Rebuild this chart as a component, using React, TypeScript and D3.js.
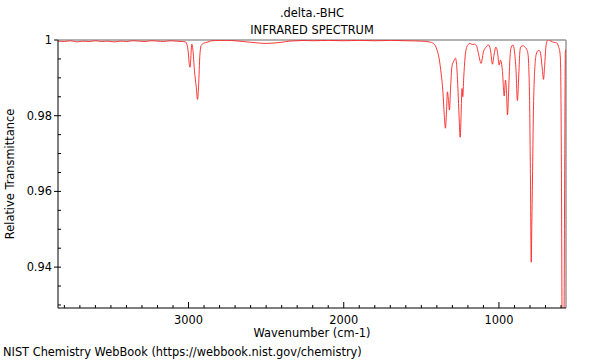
import React from "react";
import * as d3 from "d3";

// spectrum samples (descending wavenumber)
const wavenumbers = [
  3840, 3800, 3760, 3720, 3680, 3640, 3600, 3560, 3520, 3480, 3440, 3400, 3360, 3320,
  3280, 3240, 3200, 3160, 3120, 3080, 3040, 3020, 3008, 3000, 2995, 2990, 2985, 2979,
  2972, 2962, 2950, 2942, 2935, 2927, 2918, 2900, 2880, 2850, 2800, 2750, 2700, 2650,
  2600, 2550, 2500, 2450, 2400, 2350, 2300, 2250, 2200, 2100, 2000, 1900, 1800, 1700,
  1600, 1500, 1450, 1420, 1400, 1385, 1372, 1362, 1352, 1345, 1338, 1332, 1325, 1319,
  1312, 1303, 1290, 1280, 1272, 1262, 1255, 1250, 1244, 1238, 1233, 1227, 1218, 1207,
  1196, 1186, 1172, 1160, 1145, 1130, 1115, 1106, 1100, 1085, 1068, 1055, 1042, 1032,
  1020, 1010, 999, 990, 978, 966, 958, 952, 945, 938, 930, 923, 910, 900, 890, 881,
  872, 865, 859, 842, 830, 820, 814, 808, 803, 797, 792, 788, 784, 778, 772, 767, 760,
  748, 739, 730, 720, 713, 706, 698, 691, 680, 675, 665, 655, 649, 635, 623, 615, 610,
  604, 598, 594, 590, 585, 580, 576, 572, 568,
];
const transmittance = [
  0.9997, 0.9996, 0.9998, 0.9995, 0.9997, 0.9996, 0.9998, 0.9996, 0.9997, 0.9995, 0.9997, 0.9996, 0.9998, 0.9997,
  0.9996, 0.9998, 0.9997, 0.9996, 0.9998, 0.9997, 0.9996, 0.9995, 0.9985, 0.996, 0.9935, 0.9928, 0.9955, 0.9989,
  0.9975, 0.992, 0.9875, 0.9843, 0.988, 0.996, 0.9986, 0.9992, 0.9994, 0.9998, 0.9999, 0.9999, 0.9998, 0.9996,
  0.9994, 0.9992, 0.9991, 0.9992, 0.9994, 0.9997, 0.9998, 0.9999, 0.9998, 0.9999, 0.9998, 0.9999, 0.9998, 0.9999,
  0.9998, 0.9997, 0.9995, 0.999, 0.9975, 0.995, 0.991, 0.9868, 0.98, 0.9767, 0.981, 0.9863, 0.984, 0.9815,
  0.987, 0.993, 0.9945, 0.9952, 0.993, 0.985, 0.978, 0.9743, 0.98, 0.9872, 0.985, 0.99, 0.9955, 0.9982,
  0.9989, 0.9991, 0.9988, 0.9989, 0.9985, 0.996, 0.9938, 0.9955, 0.9969, 0.998, 0.9987, 0.9975, 0.9936, 0.996,
  0.9981, 0.997, 0.9934, 0.9947, 0.992, 0.9852, 0.9894, 0.987, 0.9802, 0.986, 0.9945, 0.9978, 0.9987, 0.997, 0.992, 0.984,
  0.991, 0.997, 0.9982, 0.9985, 0.998, 0.9974, 0.9966, 0.993, 0.985, 0.963, 0.9413, 0.952, 0.963, 0.981, 0.99, 0.9938, 0.9962,
  0.9972, 0.9972, 0.996, 0.992, 0.9896, 0.993, 0.998, 0.9996, 1.0001, 1.0, 0.9997, 0.9995, 0.9994, 0.9993, 0.9991, 0.998, 0.9974,
  0.995, 0.97, 0.93, 0.9, 0.9, 0.93, 0.97, 0.997, 0.9975,
];

const xMajor = [3000, 2000, 1000];
const yMajor = [0.94, 0.96, 0.98, 1];
const yMajorLabels = ["0.94", "0.96", "0.98", "1"];

const title = ".delta.-BHC";
const subtitle = "INFRARED SPECTRUM";
const xLabel = "Wavenumber (cm-1)";
const yLabel = "Relative Transmittance";
const credit = "NIST Chemistry WebBook (https://webbook.nist.gov/chemistry)";

export default function App() {
  const width = 600;
  const height = 360;
  const m = { top: 40, right: 34, bottom: 52, left: 58 };
  const font = "DejaVu Sans, sans-serif";
  const fs = 11.4;

  const x = d3
    .scaleLinear()
    .domain([3841, 568])
    .range([m.left, width - m.right]);
  const y = d3
    .scaleLinear()
    .domain([0.9292, 1])
    .range([height - m.bottom, m.top]);

  const pts = wavenumbers.map((w, i) => [w, transmittance[i]] as [number, number]);
  const line = d3
    .line<[number, number]>()
    .x((d) => x(d[0]))
    .y((d) => y(d[1]))
    .curve(d3.curveMonotoneX);

  const x0 = m.left;
  const x1 = width - m.right;
  const y0 = height - m.bottom;
  const y1 = m.top;

  const xMinor = d3.range(600, 3900, 100).filter((v) => v % 1000 !== 0);
  const yMinor = d3.range(0, 14).map((i) => 0.93 + i * 0.005).filter((v) => y(v) < y0 && y(v) > y1);

  return (
    <svg
      width={width}
      height={height}
      style={{ position: "absolute", left: 0, top: 0, background: "#fff" }}
      fontFamily={font}
    >
      <defs>
        <clipPath id="plot">
          <rect x={x0} y={y1} width={x1 - x0} height={y0 - y1} />
        </clipPath>
      </defs>

      {/* titulos */}
      <text x={(x0 + x1) / 2} y={17} textAnchor="middle" fontSize={fs}>{title}</text>
      <text x={(x0 + x1) / 2} y={34} textAnchor="middle" fontSize={fs}>{subtitle}</text>

      {/* marco gris arriba y a la derecha */}
      <line x1={x0} x2={x1} y1={y1} y2={y1} stroke="#999" strokeWidth={1.5} />
      <line x1={x1} x2={x1} y1={y1} y2={y0} stroke="#999" strokeWidth={1.5} />

      {/* espectro */}
      <path d={line(pts) ?? ""} fill="none" stroke="#ff2020" strokeWidth={0.9} clipPath="url(#plot)" />

      {/* eje X */}
      <line x1={x0} x2={x1} y1={y0} y2={y0} stroke="#000" />
      {xMinor.map((v) => (
        <line key={v} x1={x(v)} x2={x(v)} y1={y0} y2={y0 - 3} stroke="#000" />
      ))}
      {xMajor.map((v) => (
        <g key={v}>
          <line x1={x(v)} x2={x(v)} y1={y0} y2={y0 - 6} stroke="#000" />
          <text x={x(v)} y={y0 + 16} textAnchor="middle" fontSize={fs}>{v}</text>
        </g>
      ))}
      <text x={(x0 + x1) / 2} y={y0 + 29} textAnchor="middle" fontSize={fs}>{xLabel}</text>

      {/* eje Y */}
      <line x1={x0} x2={x0} y1={y1} y2={y0} stroke="#000" />
      {yMinor.map((v, i) => (
        <line key={i} x1={x0} x2={x0 + 3} y1={y(v)} y2={y(v)} stroke="#000" />
      ))}
      {yMajor.map((v, i) => (
        <g key={v}>
          <line x1={x0 - 4} x2={x0} y1={y(v)} y2={y(v)} stroke="#000" />
          <text x={x0 - 6} y={y(v) + 4} textAnchor="end" fontSize={fs}>{yMajorLabels[i]}</text>
        </g>
      ))}
      <text
        transform={`translate(14, ${(y0 + y1) / 2}) rotate(-90)`}
        textAnchor="middle"
        fontSize={fs}
      >
        {yLabel}
      </text>

      <text x={3} y={356} fontSize={fs}>{credit}</text>
    </svg>
  );
}
